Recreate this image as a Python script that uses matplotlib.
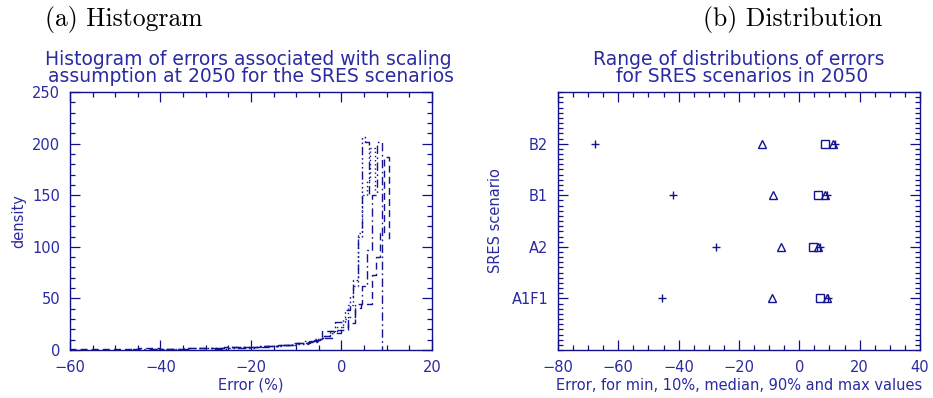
import numpy as np
import matplotlib
matplotlib.use("Agg")
import matplotlib.pyplot as plt
from matplotlib.ticker import MultipleLocator

# histogram outlines (bin edges, heights, value at last edge)
edges_a2 = [-28.0, -25.5, -22.0, -19.0, -16.0, -13.0, -10.0, -7.5, -5.5, -4.4,
            -2.5, -1.4, 0.7, 1.8, 2.6, 3.7, 4.5, 5.3, 6.1]
dens_a2 = [1, 2, 2, 3, 4, 5, 6, 8, 11, 14, 18, 27, 39, 52, 68, 110, 206, 202]
end_a2 = 150

edges_b1 = [-42.0, -38.0, -34.0, -30.0, -26.0, -22.0, -18.0, -14.0, -11.0, -8.0,
            -6.0, -4.0, -2.5, -1.0, 0.4, 1.5, 2.5, 3.6, 4.6, 5.6, 6.3, 7.4]
dens_b1 = [1, 1, 2, 2, 3, 3, 4, 5, 7, 9, 11, 14, 17, 22, 30, 44, 62, 113, 150, 165, 196]
end_b1 = 155

edges_a1f1 = [-46.0, -42.0, -38.0, -34.0, -30.0, -26.0, -22.0, -18.0, -14.0, -10.0,
              -7.0, -4.5, -2.0, 0.0, 1.5, 3.0, 4.5, 5.6, 6.7, 7.8, 9.0]
dens_a1f1 = [1, 1, 1, 2, 2, 3, 3, 4, 5, 7, 9, 12, 16, 22, 32, 45, 62, 97, 150, 202]
end_a1f1 = 0

edges_b2 = [-60.0, -55.0, -50.0, -45.0, -40.0, -35.0, -30.0, -26.0, -22.0, -18.0,
            -14.0, -10.0, -7.0, -4.4, -1.8, 1.4, 3.0, 4.4, 5.6, 6.7, 7.6, 8.5, 9.3, 10.5]
dens_b2 = [1, 1, 1, 2, 1, 2, 2, 3, 3, 4, 5, 7, 10, 18, 19, 26, 41, 45, 45, 73, 90, 113, 187]
end_b2 = 104

# right panel: error statistics per scenario
scenarios = ['A1F1', 'A2', 'B1', 'B2']
err_min = [-45.5, -27.6, -41.9, -67.7]
err_p10 = [-9.1, -6.1, -8.7, -12.4]
err_med = [6.8, 4.5, 6.2, 8.5]
err_p90 = [9.2, 6.2, 8.5, 11.2]
err_max = [9.5, 6.8, 9.2, 11.8]

txt_col = '#2a2aa2'
ax_col = '#10108c'
line_col = '#14148e'

plt.rcParams['font.family'] = 'DejaVu Sans'
plt.rcParams['font.size'] = 10.5

fig = plt.figure(figsize=(9.33, 3.98), dpi=100)
ax1 = fig.add_axes([0.075, 0.1206, 0.388, 0.648])
ax2 = fig.add_axes([0.598, 0.1206, 0.388, 0.648])


def style_axes(ax):
    for s in ax.spines.values():
        s.set_color(ax_col)
        s.set_linewidth(1.0)
    ax.tick_params(which='both', direction='in', top=True, right=True,
                   colors=ax_col, labelcolor=txt_col, width=0.9)
    ax.tick_params(which='major', length=7, pad=7)
    ax.tick_params(which='minor', length=3.5)


def draw_hist(ax, edges, dens, end, ls):
    x = np.concatenate([[edges[0]], edges])
    y = np.concatenate([[0], dens, [end]])
    ax.plot(x, y, drawstyle='steps-post', color=line_col, lw=1.0, linestyle=ls)


draw_hist(ax1, edges_a2, dens_a2, end_a2, (0, (6, 2, 1.2, 2, 1.2, 2, 1.2, 2)))
draw_hist(ax1, edges_b1, dens_b1, end_b1, (0, (1, 2)))
draw_hist(ax1, edges_a1f1, dens_a1f1, end_a1f1, (0, (6, 2.5, 1.2, 2.5)))
draw_hist(ax1, edges_b2, dens_b2, end_b2, (0, (5, 3)))

ax1.set_xlim(-60, 20)
ax1.set_ylim(0, 250)
ax1.xaxis.set_major_locator(MultipleLocator(20))
ax1.xaxis.set_minor_locator(MultipleLocator(5))
ax1.yaxis.set_major_locator(MultipleLocator(50))
ax1.yaxis.set_minor_locator(MultipleLocator(10))
style_axes(ax1)
ax1.set_xlabel('Error (%)', color=txt_col, labelpad=2)
ax1.set_ylabel('density', color=txt_col, labelpad=4)
ax1.set_title('Histogram of errors associated with scaling \nassumption at 2050 for the SRES scenarios',
              color=txt_col, fontsize=13.5, linespacing=0.92, pad=7)

ypos = np.arange(1, len(scenarios) + 1)
mk = dict(color=line_col, linestyle='none', markersize=6, markeredgewidth=1.0)
ax2.plot(err_min, ypos, marker='+', **mk)
ax2.plot(err_p10, ypos, marker='^', fillstyle='none', **mk)
ax2.plot(err_med, ypos, marker='s', fillstyle='none', **mk)
ax2.plot(err_p90, ypos, marker='^', fillstyle='none', **mk)
ax2.plot(err_max, ypos, marker='+', **mk)

ax2.set_xlim(-80, 40)
ax2.set_ylim(0, 5)
ax2.xaxis.set_major_locator(MultipleLocator(20))
ax2.xaxis.set_minor_locator(MultipleLocator(5))
ax2.set_yticks(ypos)
ax2.set_yticklabels(scenarios)
ax2.yaxis.set_minor_locator(MultipleLocator(0.1))
style_axes(ax2)
ax2.set_xlabel('Error, for min, 10%, median, 90% and max values', color=txt_col, labelpad=2)
ax2.set_ylabel('SRES scenario', color=txt_col, labelpad=6)
ax2.set_title('Range of distributions of errors\n for SRES scenarios in 2050',
              color=txt_col, fontsize=13.5, linespacing=0.92, pad=7)

fig.text(0.048, 0.95, '(a) Histogram', family='cmr10', fontsize=18.5, va='center', ha='left')
fig.text(0.946, 0.95, '(b) Distribution', family='cmr10', fontsize=18.5, va='center', ha='right')

fig.savefig('out.png', dpi=100)
